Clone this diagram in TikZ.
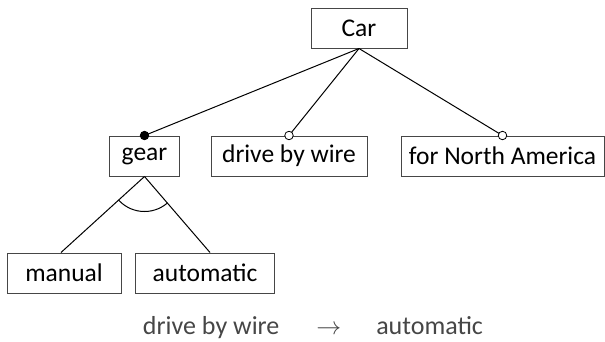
\documentclass[tikz,border=0pt]{standalone}
\usepackage{fontspec}
\setmainfont{Carlito}
\usetikzlibrary{calc}
\definecolor{boxline}{RGB}{70,70,70}
\definecolor{notegray}{RGB}{70,70,70}
\tikzset{
  feat/.style={draw=boxline, line width=1pt, rectangle, inner sep=0pt, minimum height=40pt,
    font=\fontsize{25.5}{30}\selectfont},
  conn/.style={line width=1pt, black},
  mand/.style={circle, fill=black, draw=black, line width=0.8pt, inner sep=0pt, minimum size=8.5pt},
  opt/.style={circle, fill=white, draw=black, line width=0.8pt, inner sep=0pt, minimum size=8.5pt},
  note/.style={text=notegray, font=\fontsize{26}{30}\selectfont, inner sep=0pt}
}
\begin{document}
\begin{tikzpicture}[x=1pt,y=-1pt]
\useasboundingbox (0,0) rectangle (605,341);
\node[feat, minimum width=96pt] (car) at (359,28) {Car};
\node[feat, minimum width=70pt] (gear) at (144.5,156) {gear};
\node[feat, minimum width=156pt] (dbw) at (289,156) {drive by wire};
\node[feat, minimum width=203pt] (na) at (502.5,156) {for North America};
\node[feat, minimum width=114pt] (manual) at (64,273) {manual};
\node[feat, minimum width=139pt] (auto) at (205,273) {automatic};
% connectors
\draw[conn] (car.south) -- (gear.north);
\draw[conn] (car.south) -- (dbw.north);
\draw[conn] (car.south) -- (na.north);
\node[mand] (d1) at (gear.north) {};
\node[opt] (d2) at (dbw.north) {};
\node[opt] (d3) at (na.north) {};
\coordinate (gm) at ($(manual.north)+(-3,0)$);
\coordinate (ga) at ($(auto.north)+(5,0)$);
\draw[conn] (gear.south) -- (gm);
\draw[conn] (gear.south) -- (ga);
\begin{scope}
\clip (gear.south) -- ($(gear.south)!2!(gm)$) -- ($(gear.south)!2!(ga)$) -- cycle;
\draw[conn] (gear.south) circle (35pt);
\end{scope}
\node[note, anchor=base] (rule) at (313,334) {drive by wire\hspace{37pt}$\rightarrow$\hspace{35pt}automatic};
\end{tikzpicture}
\end{document}
